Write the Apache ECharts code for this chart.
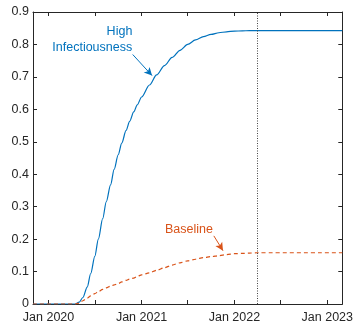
<!DOCTYPE html>
<html><head><meta charset="utf-8">
<script src="https://cdn.jsdelivr.net/npm/echarts@6/dist/echarts.min.js"></script>
<style>html,body{margin:0;padding:0;background:#fff}#c{width:356px;height:330px}</style>
</head><body><div id="c"></div>
<script>
// Data
var dates = ['2019-11-01','2020-04-15','2020-05-01','2020-05-15','2020-06-01','2020-06-15','2020-07-01','2020-07-15','2020-08-01','2020-08-15','2020-09-01','2020-09-15','2020-10-01','2020-10-15','2020-11-01','2020-11-15','2020-12-01','2020-12-15','2021-01-01','2021-02-01','2021-03-01','2021-04-01','2021-05-01','2021-06-01','2021-07-01','2021-08-01','2021-09-01','2021-10-01','2021-11-01','2021-12-01','2022-01-01','2022-02-01','2022-03-01','2022-04-01','2023-03-01'];
var highInfectiousness = [0,0,0.006,0.02,0.052,0.094,0.147,0.200,0.263,0.315,0.367,0.415,0.460,0.496,0.535,0.563,0.592,0.614,0.638,0.675,0.706,0.735,0.760,0.782,0.800,0.814,0.824,0.831,0.836,0.839,0.841,0.842,0.8425,0.8425,0.8425];
var baseline = [0,0,0.003,0.010,0.018,0.025,0.032,0.038,0.045,0.050,0.055,0.059,0.063,0.068,0.073,0.077,0.080,0.085,0.090,0.096,0.104,0.112,0.120,0.127,0.133,0.138,0.143,0.146,0.149,0.152,0.155,0.156,0.157,0.158,0.158];
var yTicks = [0,0.1,0.2,0.3,0.4,0.5,0.6,0.7,0.8,0.9];
var xTickDates = ['2020-01-01','2020-07-01','2021-01-01','2021-07-01','2022-01-01','2022-07-01','2023-01-01'];
var xLabelDates = ['2020-01-01','2021-01-01','2022-01-01','2023-01-01'];
var xMin = '2019-11-01', xMax = '2023-03-01';
var cutoffDate = '2022-04-01';

var BLUE = '#0072BD', ORANGE = '#D95319', AX = '#262626';
var FONT = '"Liberation Sans", Arial, Helvetica, sans-serif';
function ts(d){ return new Date(d + 'T00:00:00Z').getTime(); }
var tickTs = xTickDates.map(ts), labelTs = xLabelDates.map(ts);
var months = ['Jan','Feb','Mar','Apr','May','Jun','Jul','Aug','Sep','Oct','Nov','Dec'];

var chart = echarts.init(document.getElementById('c'), null, {renderer:'canvas'});
var xCommon = {
  type:'value', min: ts(xMin), max: ts(xMax), scale:true,
  axisLine:{show:true, onZero:false, lineStyle:{color:AX, width:1}},
  splitLine:{show:false}
};
var option = {
  animation:false,
  grid:{left:33, right:13, top:12, bottom:26, containLabel:false},
  xAxis:[
    Object.assign({}, xCommon, {position:'bottom',
      axisTick:{show:true, inside:true, length:4, lineStyle:{color:AX}, customValues: tickTs},
      axisLabel:{show:true, margin:7, color:AX, fontSize:12.5, fontFamily:FONT, customValues: labelTs,
        formatter:function(v){ var d=new Date(v); return months[d.getUTCMonth()]+' '+d.getUTCFullYear(); }}
    }),
    Object.assign({}, xCommon, {position:'top',
      axisTick:{show:true, inside:true, length:4, lineStyle:{color:AX}, customValues: tickTs},
      axisLabel:{show:false}
    })
  ],
  yAxis:[
    {type:'value', min:0, max:0.9, interval:0.1, position:'left',
      axisLine:{show:true, onZero:false, lineStyle:{color:AX}},
      axisTick:{show:true, inside:true, length:4, lineStyle:{color:AX}},
      axisLabel:{color:AX, fontSize:12.5, fontFamily:FONT, margin:4,
        formatter:function(v){ return String(Math.round(v*10)/10); }},
      splitLine:{show:false}},
    {type:'value', min:0, max:0.9, interval:0.1, position:'right',
      axisLine:{show:true, onZero:false, lineStyle:{color:AX}},
      axisTick:{show:true, inside:true, length:4, lineStyle:{color:AX}},
      axisLabel:{show:false}, splitLine:{show:false}}
  ],
  series:[
    {type:'line', name:'High Infectiousness', xAxisIndex:0, yAxisIndex:0,
      data: dates.map(function(d,i){ return [ts(d), highInfectiousness[i]]; }),
      showSymbol:false, smooth:0.3, smoothMonotone:'x',
      lineStyle:{color:BLUE, width:1.2},
      markLine:{silent:true, symbol:['none','none'], label:{show:false},
        lineStyle:{color:'#444', type:[1,1.5], width:1},
        data:[{xAxis: ts(cutoffDate)}]}
    },
    {type:'line', name:'Baseline', xAxisIndex:0, yAxisIndex:0,
      data: dates.map(function(d,i){ return [ts(d), baseline[i]]; }),
      showSymbol:false, smooth:0.3, smoothMonotone:'x',
      lineStyle:{color:ORANGE, width:1.2, type:[4,3]}
    },
    {type:'line', name:'arrows', xAxisIndex:0, yAxisIndex:0, data:[], showSymbol:false,
      markLine:{silent:true, symbol:['none','arrow'], symbolSize:[6,8], label:{show:false},
        data:[
          [{coord:[ts('2020-11-27'),0.769], lineStyle:{color:BLUE, width:1, type:'solid'}},{coord:[ts('2021-02-11'),0.704]}],
          [{coord:[ts('2021-10-12'),0.210], lineStyle:{color:ORANGE, width:1, type:'solid'}},{coord:[ts('2021-11-17'),0.1645]}]
        ]}
    }
  ]
};
chart.setOption(option);

// annotations anchored in data coordinates
var notes = [
  {text:'High', d:'2020-10-06', y:0.84, color:BLUE},
  {text:'Infectiousness', d:'2020-06-21', y:0.79, color:BLUE},
  {text:'Baseline', d:'2021-07-06', y:0.231, color:ORANGE}
];
chart.setOption({graphic: notes.map(function(n){
  var p = chart.convertToPixel({xAxisIndex:0, yAxisIndex:0}, [ts(n.d), n.y]);
  return {type:'text', x:p[0], y:p[1], style:{text:n.text, fill:n.color, font:'12.5px '+FONT, textAlign:'center', textVerticalAlign:'middle'}};
})});
</script></body></html>
